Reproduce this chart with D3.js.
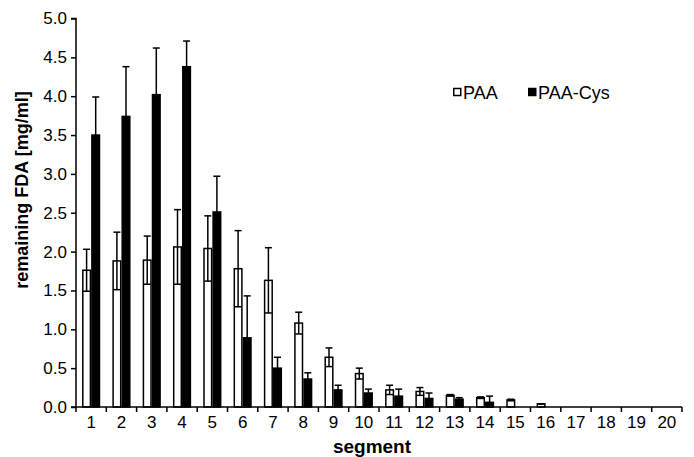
<!DOCTYPE html>
<html><head><meta charset="utf-8">
<script src="https://cdn.jsdelivr.net/npm/d3@7"></script>
<style>body{margin:0;background:#fff}</style>
</head><body>
<svg id="c" width="694" height="457"></svg>
<script>
const segments = d3.range(1, 21).map(String);
const seriesNames = ["PAA", "PAA-Cys"];
const paaValues = [1.76,1.88,1.89,2.06,2.04,1.78,1.63,1.08,0.64,0.43,0.22,0.20,0.15,0.12,0.09,0.04,0,0,0,0];
const paaErrors = [0.27,0.37,0.31,0.48,0.42,0.49,0.42,0.14,0.12,0.07,0.06,0.05,0.01,0.01,0.01,0,0,0,0,0];
const cysValues = [3.50,3.74,4.02,4.38,2.51,0.89,0.50,0.36,0.22,0.18,0.14,0.11,0.10,0.06,0,0,0,0,0,0];
const cysErrors = [0.49,0.64,0.60,0.33,0.46,0.54,0.14,0.08,0.06,0.05,0.09,0.07,0.02,0.08,0,0,0,0,0,0];
const yTicks = [0,0.5,1,1.5,2,2.5,3,3.5,4,4.5,5];

const svg = d3.select("#c");
const font = "Liberation Sans, Arial, sans-serif";
const mLeft = 76, mRight = 682, mTop = 18.5, mBottom = 407;

const x = d3.scaleBand().domain(segments).range([mLeft, mRight]).padding(0);
const bw = x.bandwidth();
const x1 = d3.scaleBand().domain(seriesNames).range([bw*0.2, bw*0.8]).padding(0);
const y = d3.scaleLinear().domain([0,5]).range([mBottom, mTop]);

const data = segments.map((s,i)=>({seg:s, items:[
  {name:"PAA", v:paaValues[i], e:paaErrors[i]},
  {name:"PAA-Cys", v:cysValues[i], e:cysErrors[i]}]}));

const g = svg.append("g");
const groups = g.selectAll("g.grp").data(data).join("g")
  .attr("transform", d=>`translate(${x(d.seg)},0)`);

const items = groups.selectAll("g.it").data(d=>d.items).join("g");
const nz = items.filter(d=>d.v>0);
nz.append("rect")
  .attr("x", d=>x1(d.name)+0.75)
  .attr("width", x1.bandwidth()-1.5)
  .attr("y", d=>y(d.v))
  .attr("height", d=>y(0)-y(d.v))
  .attr("fill", d=>d.name==="PAA"?"#fff":"#000")
  .attr("stroke", "#000").attr("stroke-width", 1.5);

const cap = 3.5;
const cx = d=>x1(d.name)+x1.bandwidth()/2;
nz.append("line")
  .attr("x1", cx).attr("x2", cx)
  .attr("y1", d=>y(d.v+d.e)).attr("y2", d=>y(Math.max(0,d.v-d.e)))
  .attr("stroke", "#000").attr("stroke-width", 1.5);
nz.append("line")
  .attr("x1", d=>cx(d)-cap).attr("x2", d=>cx(d)+cap)
  .attr("y1", d=>y(d.v+d.e)).attr("y2", d=>y(d.v+d.e))
  .attr("stroke", "#000").attr("stroke-width", 1.5);
nz.append("line")
  .attr("x1", d=>cx(d)-cap).attr("x2", d=>cx(d)+cap)
  .attr("y1", d=>y(Math.max(0,d.v-d.e))).attr("y2", d=>y(Math.max(0,d.v-d.e)))
  .attr("stroke", "#000").attr("stroke-width", 1.5);

// Y axis
const yAxis = d3.axisLeft(y).tickValues(yTicks).tickFormat(d3.format(".1f")).tickSize(5).tickPadding(4);
const ya = svg.append("g").attr("transform", `translate(${mLeft},0)`).call(yAxis);
ya.select(".domain").attr("stroke-width", 1.5).attr("d", `M-5,${mTop}H0V${mBottom}`);
ya.selectAll(".tick line").attr("stroke-width", 1.5);
ya.selectAll("text").attr("font-family", font).attr("font-size", 17).attr("fill", "#000");

// X axis: ticks at boundaries
const xa = svg.append("g").attr("transform", `translate(0,${mBottom})`);
xa.append("line").attr("x1", mLeft-5).attr("x2", mRight).attr("stroke", "#000").attr("stroke-width", 1.5);
const bounds = segments.map(s=>x(s)+bw).concat([mLeft]);
xa.selectAll("line.tk").data(bounds).join("line").attr("class","tk")
  .attr("x1", d=>d).attr("x2", d=>d).attr("y1", 0).attr("y2", 5)
  .attr("stroke", "#000").attr("stroke-width", 1.5);
xa.selectAll("text").data(segments).join("text")
  .attr("x", d=>x(d)+bw/2).attr("y", 21)
  .attr("text-anchor", "middle").attr("font-family", font).attr("font-size", 17).attr("fill","#000")
  .text(d=>d);

// Axis titles
svg.append("text").attr("x", 372).attr("y", 453).attr("text-anchor","middle")
  .attr("font-family", font).attr("font-size", 19).attr("font-weight","bold").text("segment");
svg.append("text").attr("transform", "translate(28,190) rotate(-90)").attr("text-anchor","middle")
  .attr("font-family", font).attr("font-size", 18).attr("font-weight","bold").text("remaining FDA [mg/ml]");

// Legend
const legendX = [453, 528];
const lg = svg.selectAll("g.lg").data(seriesNames).join("g").attr("class","lg")
  .attr("transform", (d,i)=>`translate(${legendX[i]},92)`);
lg.append("rect").attr("x", 0.75).attr("y", -3.5).attr("width", 7).attr("height", 7)
  .attr("fill", (d,i)=>i===0?"#fff":"#000").attr("stroke","#000").attr("stroke-width",1.5);
lg.append("text").attr("x", 10).attr("y", 6.5).attr("font-family", font).attr("font-size", 18).text(d=>d);
</script>
</body></html>
